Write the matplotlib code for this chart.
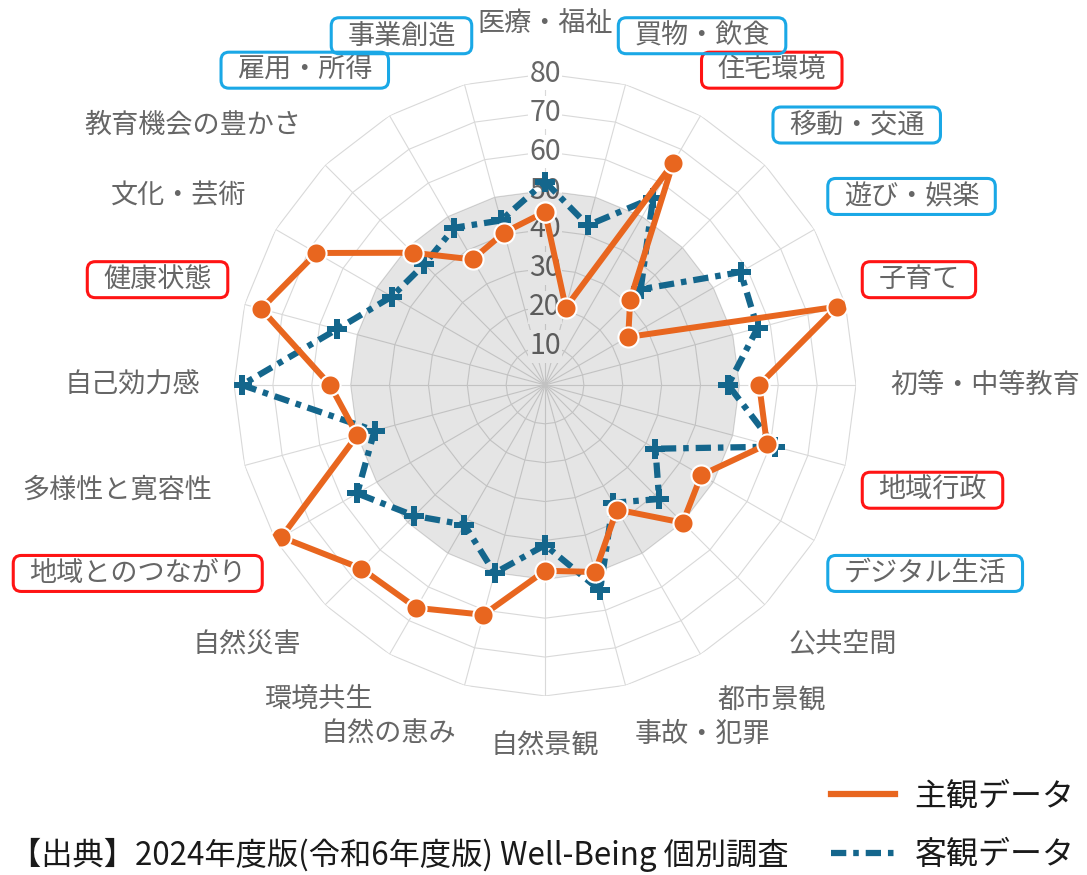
import numpy as np
import matplotlib
matplotlib.use('Agg')
import matplotlib.pyplot as plt
from matplotlib.lines import Line2D
from matplotlib.patches import FancyBboxPatch
from matplotlib.transforms import IdentityTransform

plt.rcParams['font.family'] = ['Noto Sans CJK JP', 'DejaVu Sans']
plt.rcParams['lines.scale_dashes'] = False

# 24 indicators, clockwise from the top
categories = ['医療・福祉', '買物・飲食', '住宅環境', '移動・交通', '遊び・娯楽', '子育て',
              '初等・中等教育', '地域行政', 'デジタル生活', '公共空間', '都市景観', '事故・犯罪',
              '自然景観', '自然の恵み', '環境共生', '自然災害', '地域とのつながり', '多様性と寛容性',
              '自己効力感', '健康状態', '文化・芸術', '教育機会の豊かさ', '雇用・所得', '事業創造']
subjective = [44.5, 20.6, 65.8, 31.0, 24.7, 77.8, 55.1, 59.1, 46.4, 50.1, 37.0, 49.8,
              47.8, 61.2, 66.2, 66.8, 78.3, 50.0, 55.3, 75.6, 67.9, 48.1, 37.3, 40.6]
objective = [52.3, 42.5, 55.6, 34.8, 58.1, 56.6, 47.1, 61.3, 32.8, 41.5, 35.0, 54.7,
             41.2, 50.1, 41.5, 47.6, 55.8, 45.4, 78.0, 55.4, 45.5, 43.9, 46.7, 43.8]
baseline = [50] * 24
r_ticks = [10, 20, 30, 40, 50, 60, 70, 80]
legend_labels = ['主観データ', '客観データ']
red_boxed = ['住宅環境', '子育て', '地域行政', '健康状態', '地域とのつながり']
blue_boxed = ['事業創造', '雇用・所得', '買物・飲食', '移動・交通', '遊び・娯楽', 'デジタル生活']
source_text = '【出典】2024年度版(令和6年度版) Well-Being 個別調査'

orange = '#e8661f'
blue = '#14668c'
grid_c = '#d9d9d9'
label_c = '#666666'

n = len(categories)
theta = np.arange(n) * 2 * np.pi / n
theta_c = np.append(theta, theta[0])


def closed(v):
    return np.append(v, v[0])


fig = plt.figure(figsize=(10.87, 8.75), dpi=100)
ax = fig.add_axes([0.2153, 0.2046, 0.5722, 0.7109], projection='polar')
ax.set_theta_zero_location('N')
ax.set_theta_direction(-1)
ax.set_ylim(0, 80)
ax.axis('off')

# polygon grid
for v in r_ticks:
    ax.plot(theta_c, [v] * (n + 1), color=grid_c, lw=0.8, zorder=1)
for t in theta:
    ax.plot([t, t], [0, 80], color=grid_c, lw=0.8, zorder=1)
for v in r_ticks:
    ax.text(0, v, str(v), ha='center', va='center', fontsize=20.5, color=label_c, zorder=2,
            bbox=dict(boxstyle='square,pad=0.05', fc='white', ec='none'))

# average (50) area
ax.fill(theta_c, closed(baseline), color='black', alpha=0.1, lw=0, zorder=3)

ax.plot(theta_c, closed(objective), color=blue, lw=4.5, dashes=(11, 5, 4, 5),
        marker='P', ms=15, mew=0, zorder=4)
ax.plot(theta_c, closed(subjective), color=orange, lw=4.3, solid_joinstyle='miter',
        marker='o', ms=14.5, mfc=orange, mec='white', mew=1.5, zorder=5)

# point labels
r_lab = 80 * 345 / 311
texts = {}
for t, lab in zip(theta, categories):
    deg = np.degrees(t)
    if np.isclose(deg % 180, 0):
        ha = 'center'
    elif deg < 180:
        ha = 'left'
    else:
        ha = 'right'
    if np.isclose(deg, 90) or np.isclose(deg, 270):
        dy = 0
    elif deg < 90 or deg > 270:
        dy = 16
    else:
        dy = -16
    texts[lab] = ax.annotate(lab, xy=(t, r_lab), xytext=(0, dy), textcoords='offset pixels',
                             ha=ha, va='center', fontsize=19.5, color=label_c,
                             annotation_clip=False)

handles = [Line2D([], [], color=orange, lw=4.5),
           Line2D([], [], color=blue, lw=4.5, dashes=(11, 5, 4, 5))]
fig.legend(handles, legend_labels, loc='lower right', bbox_to_anchor=(1.006, -0.017),
           frameon=False, fontsize=23, handlelength=2.0, handletextpad=0.6,
           labelspacing=0.82, borderaxespad=0.2, labelcolor='#1a1a1a')

fig.text(10 / 1087, 1 - 855 / 875, source_text, ha='left', va='center',
         fontsize=22.5, color='#1a1a1a')

# highlight boxes around some labels
fig.canvas.draw()
for names, col in [(red_boxed, '#ff1414'), (blue_boxed, '#1aa8e6')]:
    for lab in names:
        bb = texts[lab].get_window_extent()
        cy = (bb.y0 + bb.y1) / 2
        box = FancyBboxPatch((bb.x0 - 16, cy - 18), bb.width + 32, 36,
                             boxstyle='round,pad=0,rounding_size=8',
                             fc='none', ec=col, lw=2.2, transform=IdentityTransform())
        fig.add_artist(box)

fig.savefig('out.png', dpi=100)
